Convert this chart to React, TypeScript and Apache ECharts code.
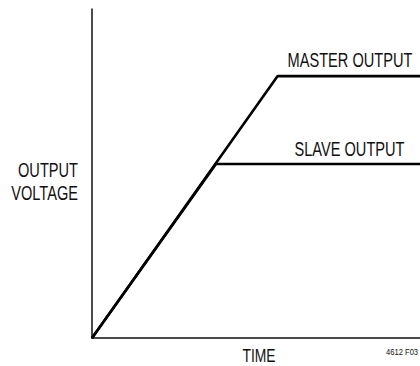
import React, { useEffect, useRef } from "react";
import * as echarts from "echarts";

// Time (0-100 % of axis) and output voltage (0-100 % of axis)
const masterTime = [0, 56.6, 100];
const masterVolt = [0, 79.6, 79.6];
const slaveTime = [0, 37.8, 100];
const slaveVolt = [0, 52.9, 52.9];
const seriesNames = ["MASTER OUTPUT", "SLAVE OUTPUT"];
const yAxisLabel = ["OUTPUT", "VOLTAGE"];
const xAxisLabel = "TIME";
const figureId = "4612 F03";

const FONT = "'Liberation Sans', Arial, sans-serif";

export default function App() {
  const ref = useRef<HTMLDivElement>(null);
  useEffect(() => {
    if (!ref.current) return;
    const chart = echarts.init(ref.current, undefined, { renderer: "svg" });
    const zip = (a: number[], b: number[]) => a.map((v, i) => [v, b[i]]);
    const txt = (
      text: string,
      x: number,
      y: number,
      size: number,
      align = "center",
      sx = 0.73
    ) => ({
      type: "text",
      x,
      y,
      scaleX: sx,
      style: {
        text,
        fill: "#111",
        fontSize: size,
        fontFamily: FONT,
        textAlign: align,
        textVerticalAlign: "middle",
      },
    });
    chart.setOption({
      animation: false,
      backgroundColor: "#fff",
      grid: { left: 92, right: 0, top: 9, bottom: 28 },
      xAxis: {
        type: "value",
        min: 0,
        max: 100,
        axisLine: { show: true, lineStyle: { color: "#111", width: 1.5 } },
        axisTick: { show: false },
        axisLabel: { show: false },
        splitLine: { show: false },
      },
      yAxis: {
        type: "value",
        min: 0,
        max: 100,
        axisLine: { show: true, lineStyle: { color: "#111", width: 1.5 } },
        axisTick: { show: false },
        axisLabel: { show: false },
        splitLine: { show: false },
      },
      series: [
        {
          name: seriesNames[0],
          type: "line",
          data: zip(masterTime, masterVolt),
          symbol: "none",
          lineStyle: { color: "#000", width: 2.6 },
        },
        {
          name: seriesNames[1],
          type: "line",
          data: zip(slaveTime, slaveVolt),
          symbol: "none",
          lineStyle: { color: "#000", width: 2.6 },
        },
      ],
      graphic: [
        txt(seriesNames[0], 350, 60, 20),
        txt(seriesNames[1], 349.5, 149, 20),
        txt(yAxisLabel[0], 78, 170, 20, "right"),
        txt(yAxisLabel[1], 78, 193, 20, "right"),
        txt(xAxisLabel, 259, 355.5, 19),
        txt(figureId, 386, 352, 9.5, "left", 0.8),
      ],
    });
    return () => chart.dispose();
  }, []);
  return (
    <div
      ref={ref}
      style={{ position: "fixed", left: 0, top: 0, width: 420, height: 366 }}
    />
  );
}
